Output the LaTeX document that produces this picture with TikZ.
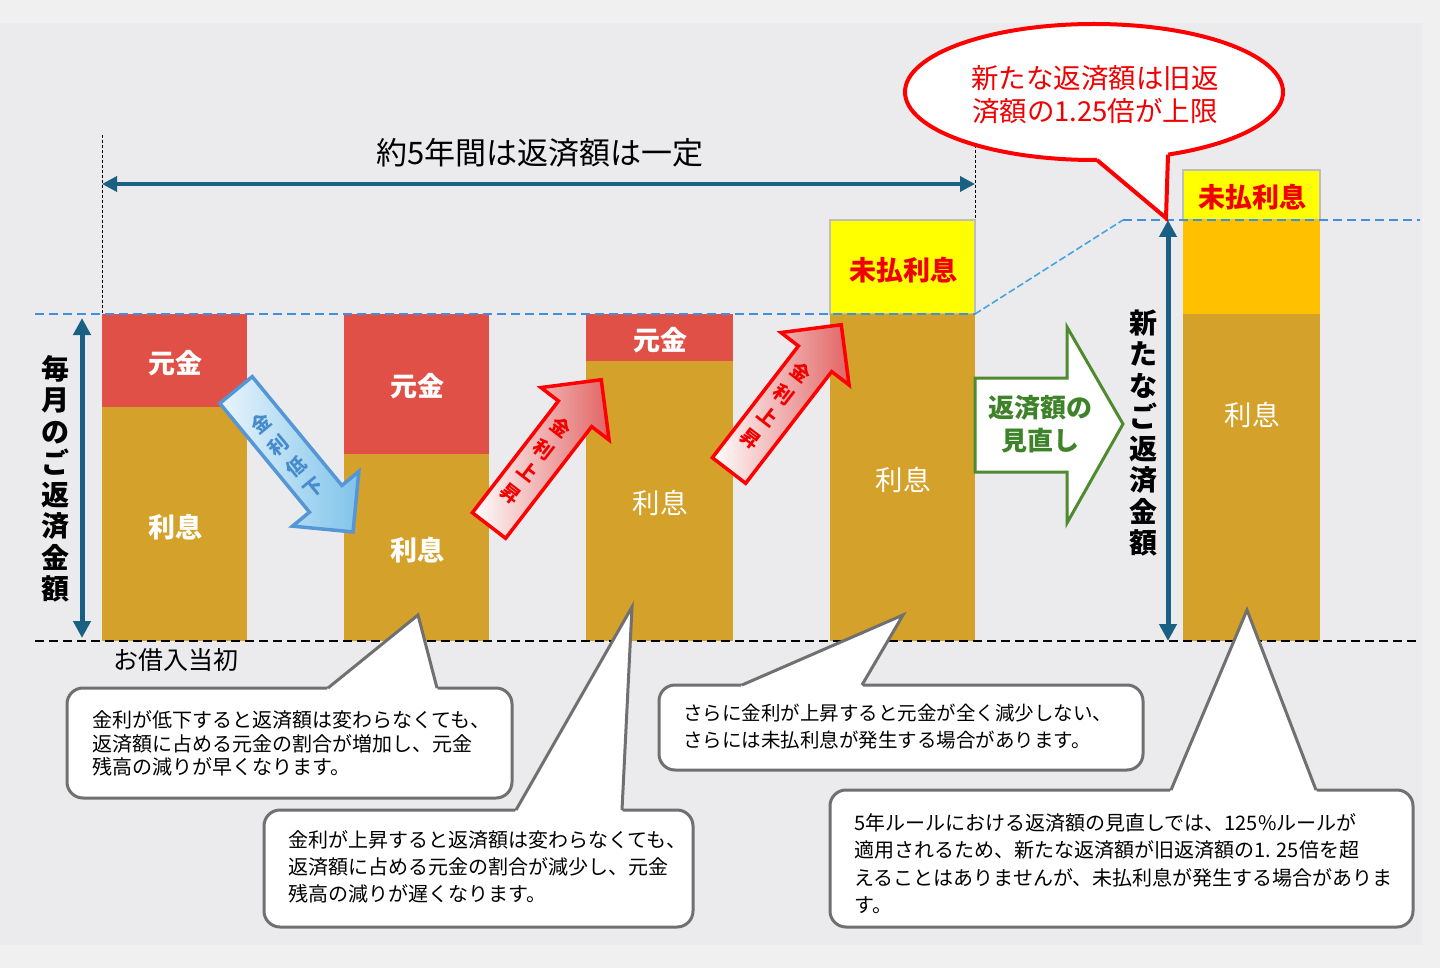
\documentclass[tikz,border=0pt]{standalone}
\usepackage{fontspec}
\setmainfont{Noto Sans CJK JP}
\usetikzlibrary{arrows.meta,shapes.geometric}
\definecolor{outerbg}{RGB}{240,240,240}
\definecolor{panelbg}{RGB}{235,235,238}
\definecolor{barred}{RGB}{224,80,70}
\definecolor{bargold}{RGB}{212,161,42}
\definecolor{baryellow}{RGB}{255,255,0}
\definecolor{barorange}{RGB}{255,192,0}
\definecolor{boxgray}{RGB}{190,190,190}
\definecolor{darkteal}{RGB}{26,96,130}
\definecolor{dashblue}{RGB}{64,144,224}
\definecolor{diagblue}{RGB}{70,165,224}
\definecolor{cgray}{RGB}{112,112,112}
\definecolor{arrgreen}{RGB}{78,138,46}
\definecolor{txtgreen}{RGB}{62,130,42}
\definecolor{arrblue}{RGB}{84,150,214}
\definecolor{lightblue}{RGB}{126,195,234}
\definecolor{paleblue}{RGB}{234,245,252}
\definecolor{palered}{RGB}{226,100,100}
\definecolor{txtblue}{RGB}{70,140,205}
\definecolor{txtred}{RGB}{240,0,0}
\begin{document}
\begin{tikzpicture}[x=1pt,y=-1pt,
  dotline/.style={black,line width=1,dash pattern=on 3pt off 2pt},
  bluedash/.style={dashblue,line width=2,dash pattern=on 9pt off 5pt},
  diagdash/.style={diagblue,line width=1.6,dash pattern=on 7pt off 3pt},
  basedash/.style={black,line width=2,dash pattern=on 9pt off 5pt},
  barlbl/.style={text=white,font=\fontsize{27}{32}\selectfont\bfseries,inner sep=0},
  barlblr/.style={text=white,font=\fontsize{27.5}{32}\selectfont,inner sep=0},
  unpaidlbl/.style={text=txtred,font=\fontsize{27}{32}\selectfont\bfseries,inner sep=0},
  tealline/.style={darkteal,line width=#1},
  vtext/.style={font=\fontsize{28}{31.5}\selectfont\bfseries,align=center,inner sep=0},
  arrtext/.style={font=\fontsize{19.5}{27.5}\selectfont\bfseries,align=center,inner sep=0},
  cbox/.style={draw=cgray,line width=3,fill=white,rounded corners=16,inner sep=0},
  ctext/.style={align=left,anchor=west,inner sep=0},
  redblock/.style={draw=red,line width=3.5,line join=miter,left color=white,middle color=white,right color=palered},
  blueblock/.style={draw=arrblue,line width=3.5,line join=miter,left color=paleblue,right color=lightblue}
]
\useasboundingbox (0,0) rectangle (1440,968);
\fill[outerbg] (0,0) rectangle (1440,968);
\fill[panelbg] (0,23) rectangle (1422,945);
% dotted verticals
\draw[dotline] (102,135) -- (102,314);
\draw[dotline] (975,135) -- (975,314);
% bars
\fill[barred] (102,314) rectangle (247,407);
\fill[bargold] (102,407) rectangle (247,641);
\fill[barred] (344,314) rectangle (489,454);
\fill[bargold] (344,454) rectangle (489,641);
\fill[barred] (586,314) rectangle (733,361);
\fill[bargold] (586,361) rectangle (733,641);
\filldraw[fill=baryellow,draw=boxgray,line width=1.5] (830,220) rectangle (975,314);
\fill[bargold] (830,314) rectangle (975,641);
\filldraw[fill=baryellow,draw=boxgray,line width=1.5] (1183,170) rectangle (1320,220);
\fill[barorange] (1183,220) rectangle (1320,314);
\fill[bargold] (1183,314) rectangle (1320,641);
% dashed lines
\draw[bluedash] (35,314) -- (975,314);
\draw[diagdash] (975,314) -- (1123,220);
\draw[bluedash] (1123,220) -- (1420,220);
\draw[basedash] (35,641) -- (1420,641);
% bar labels
\node[barlbl] (b1p) at (175,363) {元金};
\node[barlbl] (b1i) at (175,527) {利息};
\node[barlbl] (b2p) at (417,386) {元金};
\node[barlbl] (b2i) at (417,550) {利息};
\node[barlbl] (b3p) at (660,340) {元金};
\node[barlblr] (b3i) at (660,503) {利息};
\node[unpaidlbl] (b4u) at (903,270) {未払利息};
\node[barlblr] (b4i) at (903,480) {利息};
\node[unpaidlbl] (b5u) at (1252,197) {未払利息};
\node[barlblr] (b5i) at (1252,415) {利息};
% title and span arrow
\node[font=\fontsize{31}{36}\selectfont,inner sep=0] (title) at (540,153) {約5年間は返済額は一定};
\coordinate (hl) at (102,184);
\coordinate (hr) at (975,184);
\draw[tealline=3.5,{Triangle[length=15pt,width=15pt]}-{Triangle[length=15pt,width=15pt]}] (hl) -- (hr);
% left vertical arrow
\coordinate (lt) at (82,318);
\coordinate (lb) at (82,638);
\draw[tealline=5,{Triangle[length=17pt,width=17pt]}-{Triangle[length=17pt,width=17pt]}] (lt) -- (lb);
\node[vtext] (vl) at (55,479) {毎\\月\\の\\ご\\返\\済\\金\\額};
% right vertical arrow
\coordinate (rt) at (1168,220);
\coordinate (rb) at (1168,641);
\draw[tealline=5,{Triangle[length=17pt,width=17pt]}-{Triangle[length=17pt,width=17pt]}] (rt) -- (rb);
\node[vtext] (vr) at (1143,433) {新\\た\\な\\ご\\返\\済\\金\\額};
% start label
\node[font=\fontsize{25}{30}\selectfont,inner sep=0] (start) at (176,660) {お借入当初};
% blue arrow (rate down)
\begin{scope}[shift={(236,390)},rotate=-50.5]
\path[blueblock] (0,-21) -- (141,-21) -- (141,-43) -- (184,0) -- (141,43) -- (141,21) -- (0,21) -- cycle;
\end{scope}
\node[arrtext,text=txtblue,rotate=39.5] (bdt) at (287.5,455.8) {金\\利\\低\\下};
% red arrows (rate up)
\begin{scope}[shift={(489,525.5)},rotate=52.4]
\path[redblock] (0,-21) -- (141,-21) -- (141,-43) -- (184,0) -- (141,43) -- (141,21) -- (0,21) -- cycle;
\end{scope}
\node[arrtext,text=txtred,rotate=-37.6] (r1t) at (535.7,460.7) {金\\利\\上\\昇};
\begin{scope}[shift={(729,470.5)},rotate=52.4]
\path[redblock] (0,-21) -- (141,-21) -- (141,-43) -- (184,0) -- (141,43) -- (141,21) -- (0,21) -- cycle;
\end{scope}
\node[arrtext,text=txtred,rotate=-37.6] (r2t) at (775.7,405.7) {金\\利\\上\\昇};
% green review arrow
\draw[arrgreen,line width=3,fill=white,line join=miter] (975,378) -- (1067,378) -- (1067,327) -- (1123,424) -- (1067,523) -- (1067,472) -- (975,472) -- cycle;
\node[text=txtgreen,font=\fontsize{26}{33}\selectfont\bfseries,align=center,inner sep=0] (review) at (1040,424.5) {返済額の\\見直し};
% callout 1
\node[cbox,minimum width=445,minimum height=110] (c1) at (289.5,743) {};
\fill[white] (326,691.5) -- (328,688) -- (418,615) -- (437,688) -- (439,691.5) -- cycle;
\draw[cgray,line width=3,line join=miter] (328,688) -- (418,615) -- (437,688);
\node[ctext,font=\fontsize{20}{23.5}\selectfont] (c1t) at (92,743.5) {金利が低下すると返済額は変わらなくても、\\返済額に占める元金の割合が増加し、元金\\残高の減りが早くなります。};
% callout 2
\node[cbox,minimum width=429,minimum height=117] (c2) at (478.5,868.5) {};
\fill[white] (514,813.5) -- (516,810) -- (632,607) -- (622,810) -- (624,813.5) -- cycle;
\draw[cgray,line width=3,line join=miter] (516,810) -- (632,607) -- (622,810);
\node[ctext,font=\fontsize{20}{26.7}\selectfont] (c2t) at (288,867) {金利が上昇すると返済額は変わらなくても、\\返済額に占める元金の割合が減少し、元金\\残高の減りが遅くなります。};
% callout 3
\node[cbox,minimum width=484,minimum height=85] (c3) at (901,727.5) {};
\fill[white] (740,688.5) -- (742,685) -- (903,615) -- (862,685) -- (864,688.5) -- cycle;
\draw[cgray,line width=3,line join=miter] (742,685) -- (903,615) -- (862,685);
\node[ctext,font=\fontsize{19.5}{27}\selectfont] (c3t) at (683,726.5) {さらに金利が上昇すると元金が全く減少しない、\\さらには未払利息が発生する場合があります。};
% callout 4
\node[cbox,minimum width=583,minimum height=137] (c4) at (1121.5,858.5) {};
\fill[white] (1169,793.5) -- (1171,790) -- (1247,610) -- (1316,790) -- (1318,793.5) -- cycle;
\draw[cgray,line width=3,line join=miter] (1171,790) -- (1247,610) -- (1316,790);
\node[ctext,font=\fontsize{20}{27.5}\selectfont] (c4t) at (854,863.5) {5年ルールにおける返済額の見直しでは、125\%ルールが\\適用されるため、新たな返済額が旧返済額の1. 25倍を超\\えることはありませんが、未払利息が発生する場合がありま\\す。};
% red ellipse callout
\node[ellipse,draw=red,line width=4,fill=white,minimum width=378,minimum height=136,inner sep=0] (ell) at (1094,92) {};
\fill[white] (1097,160) -- (1166,218) -- (1168,154.6) -- (1168,140) -- (1097,140) -- cycle;
\coordinate (elltip) at (1166,218);
\draw[red,line width=4,line join=miter] (1097,160) -- (elltip) -- (1168,154.6);
\node[text=txtred,font=\fontsize{27.5}{33}\selectfont,align=center,inner sep=0] (ellt) at (1095,95) {新たな返済額は旧返\\済額の1.25倍が上限};
\end{tikzpicture}
\end{document}
